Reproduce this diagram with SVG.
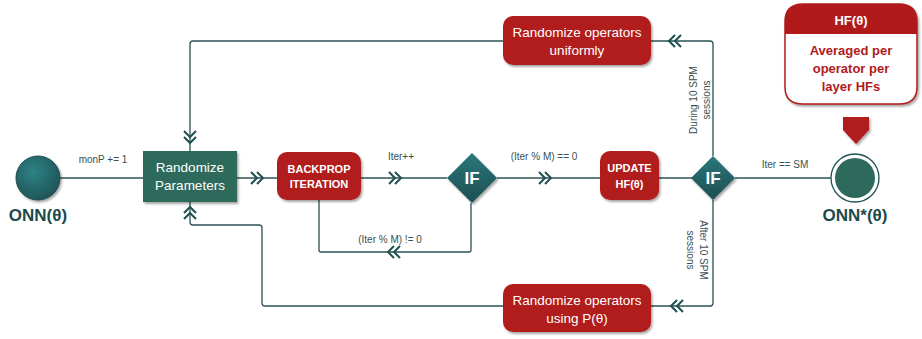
<svg xmlns="http://www.w3.org/2000/svg" width="922" height="339" viewBox="0 0 922 339">
<defs>
<style>
.ln{fill:none;stroke:#2b5355;stroke-width:1.3}
.ch{fill:none;stroke:#1f4f52;stroke-width:2}
.lbl{font-family:"Liberation Sans",Arial,sans-serif;font-size:10px;fill:#3a4f51}
.wt{font-family:"Liberation Sans",Arial,sans-serif;font-size:13.5px;fill:#ffffff}
.wb{font-family:"Liberation Sans",Arial,sans-serif;font-size:11px;font-weight:bold;fill:#ffffff}
.big{font-family:"Liberation Sans",Arial,sans-serif;font-size:17px;font-weight:bold;fill:#1d4a4c}
.ift{font-family:"Liberation Sans",Arial,sans-serif;font-size:17px;font-weight:bold;fill:#ffffff}
.rt{font-family:"Liberation Sans",Arial,sans-serif;font-size:13px;font-weight:bold;fill:#b11a1a}
.red{fill:#b11a1a}
</style>
<radialGradient id="tg" cx="0.4" cy="0.35" r="0.7">
<stop offset="0" stop-color="#2f8285"/>
<stop offset="1" stop-color="#1d5356"/>
</radialGradient>
<linearGradient id="dg" x1="0" y1="0" x2="0" y2="1">
<stop offset="0" stop-color="#2a787b"/>
<stop offset="1" stop-color="#1c4e51"/>
</linearGradient>
<filter id="sh" x="-20%" y="-20%" width="140%" height="150%">
<feDropShadow dx="1.5" dy="2" stdDeviation="1.2" flood-color="#000" flood-opacity="0.35"/>
</filter>
<path id="chev" d="M-7,-6 L-1,0 L-7,6 M-1,-6 L5,0 L-1,6"/>
</defs>
<rect width="922" height="339" fill="#ffffff"/>

<g id="connectors">
<path class="ln" d="M60,178 H143"/>
<path class="ln" d="M237,178 H277"/>
<path class="ln" d="M361,178 H447"/>
<path class="ln" d="M319,200 V250 Q319,252 321,252 H469 Q471,252 471,250 V203"/>
<path class="ln" d="M497,178 H600"/>
<path class="ln" d="M659,178 H692"/>
<path class="ln" d="M735,178 H831"/>
<path class="ln" d="M713,156 V44 Q713,41 710,41 H651"/>
<path class="ln" d="M503,41 H193 Q190,41 190,44 V151"/>
<path class="ln" d="M713,200 V303 Q713,306 710,306 H651"/>
<path class="ln" d="M503,306 H265 Q262,306 262,303 V228 Q262,225 259,225 H193 Q190,225 190,222 V202"/>
<g class="ch">
<use href="#chev" transform="translate(258,178)"/>
<use href="#chev" transform="translate(396,178)"/>
<use href="#chev" transform="translate(393,252) rotate(180)"/>
<use href="#chev" transform="translate(546,178)"/>
<use href="#chev" transform="translate(674,41) rotate(180)"/>
<use href="#chev" transform="translate(190,138) rotate(90)"/>
<use href="#chev" transform="translate(190,212) rotate(-90)"/>
<use href="#chev" transform="translate(676,306) rotate(180)"/>
</g>
<text class="lbl" x="103" y="163" text-anchor="middle">monP += 1</text>
<text class="lbl" x="401" y="160" text-anchor="middle">Iter++</text>
<text class="lbl" x="390" y="243" text-anchor="middle">(Iter % M) != 0</text>
<text class="lbl" x="544" y="160" text-anchor="middle">(Iter % M) == 0</text>
<text class="lbl" x="785" y="168" text-anchor="middle">Iter == SM</text>
<text class="lbl" transform="translate(697,100) rotate(-90)" text-anchor="middle">During 10 SPM</text>
<text class="lbl" transform="translate(710,100) rotate(-90)" text-anchor="middle">sessions</text>
<text class="lbl" transform="translate(700,250) rotate(90)" text-anchor="middle">After 10 SPM</text>
<text class="lbl" transform="translate(687,250) rotate(90)" text-anchor="middle">sessions</text>
</g>

<g id="onn">
<circle cx="38" cy="178" r="22" fill="url(#tg)" stroke="#1d4a4c" stroke-width="1" filter="url(#sh)"/>
<text class="big" x="38" y="221" text-anchor="middle">ONN(θ)</text>
</g>

<g id="randomize-parameters">
<rect x="143" y="151" width="94" height="51" fill="#2d6a5b" filter="url(#sh)"/>
<text class="wt" x="190" y="172" text-anchor="middle">Randomize</text>
<text class="wt" x="190" y="190" text-anchor="middle">Parameters</text>
</g>

<g id="backprop">
<rect class="red" x="277" y="152" width="84" height="48" rx="10" filter="url(#sh)"/>
<text class="wb" x="319" y="173" text-anchor="middle">BACKPROP</text>
<text class="wb" x="319" y="188" text-anchor="middle">ITERATION</text>
</g>

<g id="if1">
<path d="M472,153 L497,178 L472,203 L447,178 Z" fill="url(#dg)" filter="url(#sh)"/>
<text class="ift" x="472" y="184" text-anchor="middle">IF</text>
</g>

<g id="update">
<rect class="red" x="600" y="151" width="59" height="49" rx="10" filter="url(#sh)"/>
<text class="wb" x="629.5" y="172" text-anchor="middle">UPDATE</text>
<text class="wb" x="629.5" y="188" text-anchor="middle">HF(θ)</text>
</g>

<g id="if2">
<path d="M713,156 L735,178 L713,200 L691,178 Z" fill="url(#dg)" filter="url(#sh)"/>
<text class="ift" x="713" y="184" text-anchor="middle">IF</text>
</g>

<g id="randomize-uniform">
<rect class="red" x="503" y="16" width="148" height="49" rx="10" filter="url(#sh)"/>
<text class="wt" x="577" y="37" text-anchor="middle">Randomize operators</text>
<text class="wt" x="577" y="55" text-anchor="middle">uniformly</text>
</g>

<g id="randomize-p">
<rect class="red" x="503" y="284" width="148" height="48" rx="10" filter="url(#sh)"/>
<text class="wt" x="577" y="305" text-anchor="middle">Randomize operators</text>
<text class="wt" x="577" y="323" text-anchor="middle">using P(θ)</text>
</g>

<g id="onn-star">
<circle cx="855" cy="178" r="24" fill="#ffffff" stroke="#1d5356" stroke-width="1.3"/>
<circle cx="855" cy="178" r="20" fill="#2d6a5b"/>
<text class="big" x="855" y="221" text-anchor="middle">ONN*(θ)</text>
</g>

<g id="hf-callout">
<path d="M803,4 H899 Q917,4 917,22 V87 Q917,104 899,104 H803 Q785,104 785,87 V22 Q785,4 803,4 Z" fill="#ffffff" stroke="#b11a1a" stroke-width="1.5" filter="url(#sh)"/>
<path class="red" d="M803,4 H899 Q917,4 917,22 V34 H785 V22 Q785,4 803,4 Z"/>
<text class="wb" x="851" y="25" text-anchor="middle" style="font-size:13px">HF(θ)</text>
<text class="rt" x="851" y="55" text-anchor="middle">Averaged per</text>
<text class="rt" x="851" y="73" text-anchor="middle">operator per</text>
<text class="rt" x="851" y="91" text-anchor="middle">layer HFs</text>
<path class="red" d="M843,117 H869 V130 L856,144 L843,130 Z" filter="url(#sh)"/>
</g>
</svg>
